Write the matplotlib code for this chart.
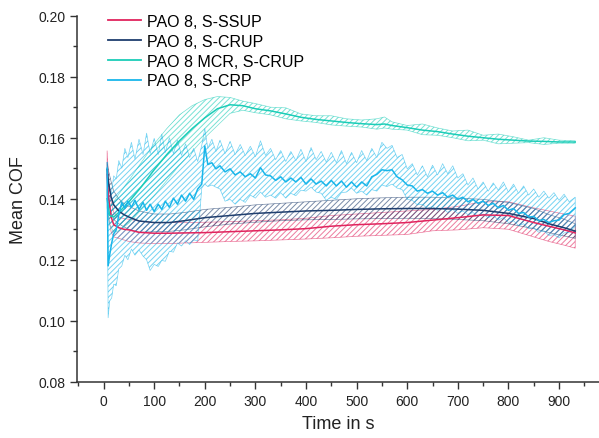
import numpy as np
import matplotlib
matplotlib.use("Agg")
import matplotlib.pyplot as plt
from matplotlib.ticker import MultipleLocator

plt.rcParams['font.family'] = ['Liberation Sans', 'DejaVu Sans']
plt.rcParams['hatch.linewidth'] = 0.7

# ---------------- data ----------------
t_smooth = [7, 10, 15, 20, 30, 40, 50, 70, 100, 130, 160, 200, 250, 300, 350, 400, 450,
            500, 550, 600, 650, 700, 750, 800, 850, 880, 910, 932]

ssup_mean = [0.148, 0.140, 0.134, 0.1315, 0.1305, 0.130, 0.1298, 0.129, 0.1287, 0.1287, 0.1288,
             0.1289, 0.1292, 0.1295, 0.1298, 0.1302, 0.131, 0.1315, 0.1318, 0.1322, 0.133,
             0.1338, 0.1347, 0.1345, 0.1322, 0.131, 0.1298, 0.1288]
ssup_lo = [0.141, 0.134, 0.129, 0.1275, 0.127, 0.1265, 0.126, 0.1255, 0.1253, 0.1253, 0.1255,
           0.1257, 0.126, 0.1262, 0.1265, 0.1268, 0.1272, 0.1277, 0.128, 0.1283, 0.1295,
           0.1298, 0.1305, 0.130, 0.1275, 0.126, 0.1248, 0.1238]
ssup_hi = [0.1557, 0.146, 0.139, 0.1355, 0.134, 0.1335, 0.1333, 0.1327, 0.1322, 0.1322, 0.1322,
           0.1323, 0.1325, 0.1328, 0.1331, 0.1336, 0.1345, 0.135, 0.1355, 0.136, 0.1365,
           0.1375, 0.139, 0.139, 0.137, 0.136, 0.135, 0.1343]

crup_mean = [0.1496, 0.145, 0.1405, 0.138, 0.136, 0.1348, 0.134, 0.1327, 0.1322, 0.1322, 0.1328,
             0.1338, 0.1345, 0.1352, 0.1356, 0.136, 0.1362, 0.1365, 0.1367, 0.1368, 0.1368,
             0.1366, 0.1362, 0.1352, 0.1335, 0.1318, 0.1305, 0.1294]
crup_hi = [0.152, 0.149, 0.1455, 0.1425, 0.140, 0.1385, 0.1375, 0.136, 0.135, 0.135, 0.1355,
           0.1365, 0.1372, 0.138, 0.1385, 0.139, 0.1395, 0.140, 0.1403, 0.1405, 0.1405,
           0.1402, 0.1398, 0.1388, 0.1368, 0.1348, 0.1333, 0.1318]
crup_lo = [0.147, 0.141, 0.1355, 0.1332, 0.1318, 0.1308, 0.130, 0.129, 0.1292, 0.1293, 0.1298,
           0.1308, 0.1317, 0.1323, 0.1328, 0.1331, 0.1332, 0.1334, 0.1335, 0.1336, 0.1335,
           0.1332, 0.1328, 0.1318, 0.1302, 0.1289, 0.1278, 0.127]

t_mcr = [7, 12, 20, 30, 50, 75, 100, 125, 150, 175, 200, 225, 250, 275, 300, 330, 360, 390,
         420, 450, 480, 510, 540, 555, 570, 600, 630, 660, 690, 720, 750, 780, 810, 840, 870,
         900, 932]
mcr_mean = [0.140, 0.1345, 0.134, 0.1355, 0.139, 0.144, 0.1495, 0.1545, 0.159, 0.163, 0.1665,
            0.1695, 0.1708, 0.1705, 0.1695, 0.1688, 0.1678, 0.1667, 0.166, 0.1655, 0.165,
            0.1646, 0.1643, 0.1645, 0.164, 0.1633, 0.1625, 0.162, 0.1612, 0.1605, 0.160,
            0.1595, 0.1592, 0.1589, 0.1588, 0.1586, 0.1586]
mcr_hi = [0.143, 0.1375, 0.139, 0.1415, 0.146, 0.152, 0.158, 0.163, 0.1675, 0.1705, 0.1725,
          0.1735, 0.1732, 0.172, 0.1712, 0.170, 0.1698, 0.1678, 0.1672, 0.1672, 0.1662,
          0.1658, 0.1662, 0.1668, 0.1652, 0.1640, 0.1645, 0.1632, 0.1622, 0.1625, 0.1608,
          0.1612, 0.1603, 0.1592, 0.1600, 0.1592, 0.159]
mcr_lo = [0.137, 0.1315, 0.129, 0.1295, 0.132, 0.1365, 0.141, 0.146, 0.151, 0.1555, 0.160,
          0.164, 0.168, 0.169, 0.1682, 0.1675, 0.1662, 0.1655, 0.165, 0.1642, 0.1638,
          0.1635, 0.1628, 0.1632, 0.1628, 0.1625, 0.1610, 0.1608, 0.160, 0.1590, 0.1592,
          0.158, 0.1582, 0.1584, 0.1578, 0.1582, 0.1582]

t_crp = [7, 9, 12, 16, 20, 25, 30, 36, 42, 48, 55, 62, 70, 78, 85, 92, 100, 108, 115, 122,
         130, 138, 146, 154, 162, 170, 178, 186, 194, 200, 206, 214, 222, 230, 240, 250, 260,
         270, 280, 290, 300, 310, 320, 330, 340, 350, 360, 370, 380, 390, 400, 410, 420, 430,
         440, 450, 460, 470, 480, 490, 500, 510, 520, 530, 540, 550, 560, 570, 580, 590, 600,
         610, 620, 630, 640, 650, 660, 670, 680, 690, 700, 710, 720, 730, 740, 750, 760, 770,
         780, 790, 800, 810, 820, 830, 840, 850, 860, 870, 880, 890, 900, 910, 920, 932]
crp_mean = [0.150, 0.118, 0.1215, 0.1255, 0.1285, 0.1298, 0.1348, 0.1388, 0.1368, 0.1392, 0.1372,
            0.1395, 0.1365, 0.1388, 0.1362, 0.1382, 0.1358, 0.1382, 0.1365, 0.1392, 0.1372,
            0.1402, 0.1382, 0.1412, 0.1392, 0.1418, 0.1398, 0.1432, 0.1448, 0.1573, 0.1512,
            0.1518, 0.1498, 0.1508, 0.1488, 0.1498, 0.1478, 0.1488, 0.1472, 0.1482, 0.1468,
            0.1502, 0.1478, 0.1475, 0.146, 0.1472, 0.1455, 0.1468, 0.1455, 0.147, 0.1448,
            0.1465, 0.1448, 0.1458, 0.1442, 0.146, 0.1442, 0.1458, 0.1438, 0.1455, 0.1438,
            0.1455, 0.1442, 0.1472, 0.148, 0.1495, 0.1492, 0.1495, 0.1472, 0.1462, 0.1445,
            0.1442, 0.1425, 0.143, 0.1418, 0.1425, 0.1412, 0.142, 0.1405, 0.1412, 0.1398,
            0.1405, 0.139, 0.1398, 0.1385, 0.1392, 0.1378, 0.1385, 0.137, 0.1378, 0.1362,
            0.1368, 0.1352, 0.1355, 0.134, 0.1342, 0.1328, 0.1332, 0.1322, 0.1328, 0.133,
            0.1348, 0.1352, 0.137]
crp_hi = [0.152, 0.135, 0.140, 0.1425, 0.1475, 0.1465, 0.1525, 0.150, 0.1565, 0.1535, 0.1585,
          0.153, 0.1595, 0.1545, 0.1615, 0.1548, 0.1598, 0.1545, 0.1612, 0.1552, 0.160,
          0.1548, 0.1592, 0.1542, 0.158, 0.1535, 0.1565, 0.1522, 0.1575, 0.163, 0.1565,
          0.1595, 0.1555, 0.1592, 0.1548, 0.1588, 0.1545, 0.1578, 0.1542, 0.1572, 0.1538,
          0.159, 0.1542, 0.1565, 0.1528, 0.1558, 0.1522, 0.1555, 0.1525, 0.1562, 0.1522,
          0.1568, 0.1528, 0.1555, 0.152, 0.1552, 0.1518, 0.1558, 0.1515, 0.1552, 0.1518,
          0.1558, 0.1525, 0.1565, 0.1535, 0.1585, 0.1565, 0.1575, 0.1535, 0.1545, 0.1498,
          0.1515, 0.1478, 0.1508, 0.1472, 0.151, 0.1478, 0.1515, 0.1482, 0.1508, 0.1468,
          0.1482, 0.1445, 0.1468, 0.1432, 0.1455, 0.1425, 0.1452, 0.1428, 0.1455, 0.1422,
          0.1448, 0.1418, 0.1442, 0.1412, 0.1432, 0.1405, 0.1425, 0.1402, 0.142, 0.1395,
          0.1415, 0.139, 0.1405]
crp_lo = [0.150, 0.101, 0.1065, 0.1075, 0.112, 0.1115, 0.117, 0.118, 0.1215, 0.120, 0.1235,
          0.1215, 0.1232, 0.1212, 0.120, 0.1165, 0.1185, 0.1178, 0.1198, 0.1195, 0.1228,
          0.1225, 0.1255, 0.1245, 0.1262, 0.125, 0.1265, 0.1262, 0.1435, 0.1448, 0.144,
          0.1445, 0.1438, 0.1432, 0.1392, 0.1398, 0.1382, 0.1398, 0.1388, 0.1412, 0.1402,
          0.1422, 0.1405, 0.1412, 0.1402, 0.142, 0.1402, 0.1418, 0.141, 0.1428, 0.1425,
          0.1438, 0.1422, 0.1418, 0.1395, 0.1405, 0.1398, 0.142, 0.1422, 0.1435, 0.1418,
          0.1425, 0.1412, 0.143, 0.1425, 0.1445, 0.144, 0.1448, 0.1435, 0.143, 0.1398,
          0.1395, 0.138, 0.1382, 0.1368, 0.1375, 0.1362, 0.137, 0.1355, 0.1365, 0.1352,
          0.136, 0.1348, 0.1355, 0.1342, 0.135, 0.1338, 0.1345, 0.133, 0.1338, 0.1322,
          0.1328, 0.1312, 0.1318, 0.1302, 0.1305, 0.129, 0.1295, 0.128, 0.1282, 0.1272,
          0.1288, 0.129, 0.131]

labels = ["PAO 8, S-SSUP", "PAO 8, S-CRUP", "PAO 8 MCR, S-CRUP", "PAO 8, S-CRP"]
colors = ["#E0245E", "#1F3E6E", "#1CCDB8", "#19B6EA"]

# ---------------- plot ----------------
fig = plt.figure(figsize=(5.99, 4.39), dpi=100)
ax = fig.add_axes([0.129, 0.128, 0.871, 0.834])

series = [
    (t_smooth, ssup_mean, ssup_lo, ssup_hi),
    (t_smooth, crup_mean, crup_lo, crup_hi),
    (t_mcr, mcr_mean, mcr_lo, mcr_hi),
    (t_crp, crp_mean, crp_lo, crp_hi),
]
for (t, m, lo, hi), c in zip(series, colors):
    ax.fill_between(t, lo, hi, facecolor='none', edgecolor=c, hatch='//////',
                    linewidth=0.5, alpha=0.6, zorder=1)
for (t, m, lo, hi), c, lab in zip(series, colors, labels):
    ax.plot(t, m, color=c, lw=1.1, label=lab, zorder=3)

ax.set_xlim(-52, 979)
ax.set_ylim(0.08, 0.20)
ax.xaxis.set_major_locator(MultipleLocator(100))
ax.xaxis.set_minor_locator(MultipleLocator(50))
ax.yaxis.set_major_locator(MultipleLocator(0.02))
ax.yaxis.set_minor_locator(MultipleLocator(0.01))
ax.yaxis.set_major_formatter(matplotlib.ticker.FormatStrFormatter('%.2f'))

for s in ['top', 'right']:
    ax.spines[s].set_visible(False)
for s in ['left', 'bottom']:
    ax.spines[s].set_linewidth(1.1)
    ax.spines[s].set_color('#333333')
ax.tick_params(which='major', direction='out', length=5, width=1, colors='#333333',
               labelsize=10, labelcolor='#222222')
ax.tick_params(which='minor', direction='out', length=3, width=1, colors='#333333')

ax.set_xlabel("Time in s", fontsize=13, color='#222222', labelpad=5)
ax.set_ylabel("Mean COF", fontsize=13, color='#222222', labelpad=8)

leg = ax.legend(loc='upper left', bbox_to_anchor=(0.046, 1.022), frameon=False,
                fontsize=11.5, handlelength=2.1, handletextpad=0.35, labelspacing=0.3,
                borderaxespad=0)
for line in leg.get_lines():
    line.set_linewidth(1.3)

fig.savefig("out.png", dpi=100)
